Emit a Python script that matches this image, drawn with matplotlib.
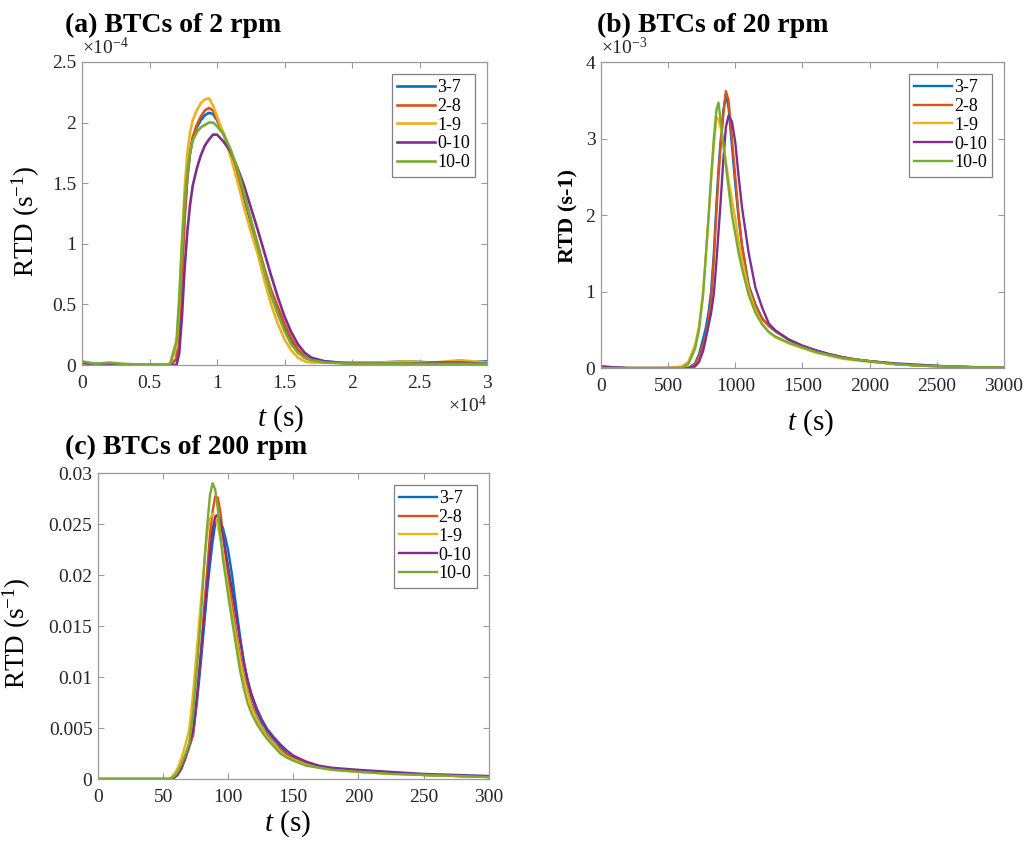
import numpy as np
import matplotlib
matplotlib.use("Agg")
import matplotlib.pyplot as plt
from matplotlib.ticker import FuncFormatter

plt.rcParams["font.family"] = ["Liberation Serif", "DejaVu Serif"]
plt.rcParams["mathtext.fontset"] = "custom"
plt.rcParams["mathtext.rm"] = "Liberation Serif"
plt.rcParams["mathtext.it"] = "Liberation Serif:italic"
plt.rcParams["mathtext.bf"] = "Liberation Serif:bold"

labels = ["3-7", "2-8", "1-9", "0-10", "10-0"]
colors = ["#0072BD", "#D95319", "#EDB120", "#7E2F8E", "#77AC30"]

# ----------- (a) 2 rpm : t in s, RTD in 1e-4 1/s -----------
t_a = [0, 1000, 2000, 3000, 5000, 6500, 7000, 7200, 7400, 7600,
       7800, 8000, 8200, 8500, 8800, 9100, 9400, 9700, 10000, 10500,
       11000, 11500, 12000, 12500, 13000, 13500, 14000, 14500, 15000, 15500,
       16000, 16500, 17000, 18000, 19000, 20000, 22000, 24000, 26000, 28000,
       30000]
rtd_a_37 = [0.02, 0.01, 0.01, 0.0, 0.0, 0.0, 0.05, 0.35, 0.8, 1.25,
            1.55, 1.75, 1.87, 1.96, 2.02, 2.06, 2.08, 2.07, 2.02, 1.9,
            1.76, 1.58, 1.38, 1.17, 0.97, 0.77, 0.58, 0.43, 0.3, 0.19,
            0.11, 0.06, 0.04, 0.03, 0.02, 0.02, 0.02, 0.03, 0.02, 0.02,
            0.03]
rtd_a_28 = [0.01, 0.0, 0.0, 0.0, 0.0, 0.0, 0.05, 0.3, 0.75, 1.2,
            1.55, 1.75, 1.88, 1.98, 2.05, 2.1, 2.12, 2.1, 2.03, 1.9,
            1.75, 1.58, 1.4, 1.2, 1.0, 0.8, 0.62, 0.48, 0.34, 0.22,
            0.13, 0.07, 0.04, 0.02, 0.02, 0.01, 0.02, 0.01, 0.02, 0.02,
            0.01]
rtd_a_19 = [0.01, 0.0, 0.0, 0.0, 0.0, 0.0, 0.15, 0.5, 1.0, 1.45,
            1.75, 1.92, 2.02, 2.1, 2.16, 2.19, 2.2, 2.14, 2.05, 1.9,
            1.72, 1.52, 1.3, 1.1, 0.92, 0.7, 0.5, 0.34, 0.21, 0.12,
            0.06, 0.03, 0.02, 0.02, 0.02, 0.02, 0.02, 0.03, 0.02, 0.04,
            0.02]
rtd_a_010 = [0.02, 0.0, 0.0, 0.0, 0.0, 0.0, 0.0, 0.1, 0.4, 0.8,
             1.1, 1.32, 1.48, 1.62, 1.73, 1.81, 1.86, 1.9, 1.9, 1.84,
             1.76, 1.63, 1.48, 1.3, 1.12, 0.93, 0.74, 0.56, 0.4, 0.27,
             0.17, 0.1, 0.06, 0.03, 0.02, 0.01, 0.01, 0.01, 0.02, 0.02,
             0.01]
rtd_a_100 = [0.03, 0.01, 0.02, 0.01, 0.0, 0.0, 0.2, 0.55, 1.0, 1.35,
             1.6, 1.75, 1.85, 1.92, 1.96, 1.98, 2.0, 2.0, 1.97, 1.9,
             1.78, 1.62, 1.42, 1.2, 0.98, 0.78, 0.58, 0.42, 0.28, 0.17,
             0.1, 0.06, 0.04, 0.02, 0.015, 0.01, 0.01, 0.01, 0.01, 0.01,
             0.01]

# ----------- (b) 20 rpm : t in s, RTD in 1e-3 1/s -----------
t_b = [0, 200, 500, 600, 650, 700, 730, 760, 780, 800,
       820, 840, 860, 875, 890, 910, 930, 950, 975, 1000,
       1025, 1050, 1100, 1150, 1200, 1250, 1300, 1400, 1500, 1600,
       1700, 1800, 1900, 2000, 2200, 2400, 2600, 2800, 3000]
rtd_b_37 = [0.02, 0.0, 0.0, 0.0, 0.0, 0.06, 0.18, 0.38, 0.52, 0.72,
            1.0, 1.5, 2.15, 2.6, 2.95, 3.35, 3.58, 3.4, 2.9, 2.4,
            1.95, 1.6, 1.08, 0.83, 0.65, 0.55, 0.48, 0.37, 0.29, 0.23,
            0.18, 0.14, 0.11, 0.09, 0.05, 0.03, 0.02, 0.01, 0.01]
rtd_b_28 = [0.0, 0.0, 0.0, 0.0, 0.0, 0.05, 0.15, 0.3, 0.42, 0.62,
            0.9, 1.4, 2.05, 2.5, 2.88, 3.3, 3.62, 3.5, 3.0, 2.5,
            2.0, 1.6, 1.05, 0.82, 0.64, 0.55, 0.48, 0.37, 0.29, 0.23,
            0.18, 0.14, 0.11, 0.09, 0.05, 0.03, 0.02, 0.01, 0.01]
rtd_b_19 = [0.0, 0.0, 0.0, 0.02, 0.08, 0.3, 0.55, 1.0, 1.45, 1.95,
            2.45, 2.9, 3.28, 3.25, 3.15, 2.95, 2.7, 2.45, 2.2, 1.95,
            1.65, 1.42, 1.02, 0.75, 0.58, 0.47, 0.4, 0.32, 0.26, 0.2,
            0.16, 0.12, 0.1, 0.08, 0.05, 0.03, 0.02, 0.01, 0.01]
rtd_b_010 = [0.02, 0.0, 0.0, 0.0, 0.0, 0.02, 0.08, 0.22, 0.38, 0.55,
             0.72, 0.97, 1.4, 1.78, 2.15, 2.7, 3.15, 3.3, 3.22, 2.95,
             2.5, 2.1, 1.5, 1.05, 0.79, 0.58, 0.49, 0.37, 0.29, 0.23,
             0.18, 0.14, 0.11, 0.09, 0.06, 0.04, 0.02, 0.01, 0.01]
rtd_b_100 = [0.0, 0.0, 0.0, 0.0, 0.05, 0.25, 0.5, 0.95, 1.45, 1.95,
             2.5, 3.0, 3.38, 3.47, 3.25, 2.95, 2.65, 2.35, 2.0, 1.75,
             1.5, 1.3, 0.95, 0.72, 0.57, 0.47, 0.41, 0.33, 0.27, 0.21,
             0.17, 0.13, 0.11, 0.09, 0.05, 0.03, 0.02, 0.01, 0.01]

# ----------- (c) 200 rpm : t in s, RTD in 1/s -----------
t_c = [0, 25, 50, 55, 58, 61, 64, 67, 70, 73,
       76, 79, 82, 84, 86, 88, 90, 92, 94, 96,
       98, 100, 103, 106, 109, 112, 115, 118, 122, 126,
       130, 135, 140, 145, 150, 160, 170, 180, 190, 200,
       225, 250, 275, 300]
rtd_c_37 = [0, 0, 0, 0, 0.0001, 0.0004, 0.001, 0.002, 0.0031, 0.0043,
            0.0075, 0.0114, 0.0157, 0.0186, 0.021, 0.0232, 0.025, 0.0254, 0.0252, 0.0246,
            0.0236, 0.0224, 0.02, 0.017, 0.0141, 0.0115, 0.0095, 0.008, 0.0066, 0.0055,
            0.0047, 0.0039, 0.0032, 0.0025, 0.0021, 0.0015, 0.0012, 0.001, 0.0009, 0.0008,
            0.0006, 0.0004, 0.0003, 0.0002]
rtd_c_28 = [0, 0, 0, 0, 0.0001, 0.0004, 0.001, 0.002, 0.0032, 0.0043,
            0.0079, 0.0125, 0.0175, 0.0207, 0.024, 0.0262, 0.0277, 0.0276, 0.0262, 0.024,
            0.0218, 0.0197, 0.017, 0.0145, 0.0122, 0.0102, 0.0086, 0.0073, 0.006, 0.005,
            0.0043, 0.0035, 0.0029, 0.0024, 0.002, 0.0015, 0.0012, 0.001, 0.0009, 0.0008,
            0.0006, 0.0004, 0.0003, 0.0002]
rtd_c_19 = [0, 0, 0, 0, 0.0004, 0.001, 0.002, 0.0033, 0.0048, 0.0083,
            0.0128, 0.0173, 0.0218, 0.0242, 0.0255, 0.026, 0.0258, 0.0248, 0.0235, 0.0222,
            0.0204, 0.0187, 0.0162, 0.0139, 0.0117, 0.0098, 0.0083, 0.007, 0.0058, 0.0049,
            0.0041, 0.0034, 0.0027, 0.0022, 0.0019, 0.0014, 0.0011, 0.0009, 0.0008, 0.0007,
            0.0005, 0.0004, 0.0003, 0.0002]
rtd_c_010 = [0, 0, 0, 0, 0.0001, 0.0004, 0.0011, 0.0022, 0.0034, 0.0047,
             0.0081, 0.0121, 0.0164, 0.0193, 0.0222, 0.0244, 0.0257, 0.0259, 0.0252, 0.0239,
             0.0224, 0.0208, 0.0185, 0.0161, 0.0137, 0.0115, 0.0097, 0.0083, 0.0069, 0.0058,
             0.0049, 0.0041, 0.0034, 0.0028, 0.0023, 0.0017, 0.0013, 0.0011, 0.001, 0.0009,
             0.0007, 0.0005, 0.0004, 0.0003]
rtd_c_100 = [0, 0, 0, 0, 0.0002, 0.0006, 0.0014, 0.0024, 0.0035, 0.0064,
             0.0108, 0.0158, 0.0218, 0.025, 0.0278, 0.029, 0.0284, 0.0265, 0.024, 0.0215,
             0.0198, 0.018, 0.0155, 0.0131, 0.0107, 0.0089, 0.0074, 0.0064, 0.0054, 0.0046,
             0.0039, 0.0032, 0.0025, 0.0021, 0.0018, 0.0013, 0.0011, 0.0009, 0.0008, 0.0007,
             0.0005, 0.0004, 0.0003, 0.0002]

SPINE = "#9a9a9a"
TEXT = "#262626"


def style_axes(ax, xlim, xticks, ylim, yticks, xdiv=1.0, ydiv=1.0):
    ax.set_xlim(*xlim)
    ax.set_ylim(*ylim)
    ax.set_xticks(xticks)
    ax.set_yticks(yticks)
    ax.xaxis.set_major_formatter(FuncFormatter(lambda v, p: f"{v / xdiv:g}"))
    ax.yaxis.set_major_formatter(FuncFormatter(lambda v, p: f"{v / ydiv:g}"))
    ax.tick_params(direction="in", top=True, right=True, length=4, width=0.8,
                   color=SPINE, labelcolor=TEXT, labelsize=14)
    ax.tick_params(axis="x", pad=7)
    ax.tick_params(axis="y", pad=4)
    for s in ax.spines.values():
        s.set_color(SPINE)
        s.set_linewidth(0.9)
    leg = ax.legend(loc="upper right", fontsize=13, handlelength=2.1,
                    handletextpad=0.1, labelspacing=0.1, borderpad=0.3,
                    borderaxespad=0.65, fancybox=False, framealpha=1)
    leg.get_frame().set_edgecolor("#808080")
    leg.get_frame().set_linewidth(0.9)


fig = plt.figure(figsize=(10.28, 8.42), dpi=100)
ax_a = fig.add_axes([0.0798, 0.5665, 0.394, 0.360])
ax_b = fig.add_axes([0.5846, 0.5629, 0.392, 0.3634])
ax_c = fig.add_axes([0.0953, 0.0748, 0.380, 0.3634])

# (a)
for y, lab, c in zip([rtd_a_37, rtd_a_28, rtd_a_19, rtd_a_010, rtd_a_100], labels, colors):
    ax_a.plot(t_a, np.array(y) * 1e-4, color=c, lw=1.9, label=lab)
style_axes(ax_a, (0, 30000), np.arange(0, 30001, 5000), (0, 2.5e-4),
           np.arange(0, 2.51e-4, 0.5e-4), xdiv=1e4, ydiv=1e-4)
ax_a.text(0.0, 1.012, r"$\times10^{-4}$", transform=ax_a.transAxes, fontsize=14,
          color=TEXT, ha="left", va="bottom")
ax_a.text(1.0, -0.10, r"$\times10^{4}$", transform=ax_a.transAxes, fontsize=14,
          color=TEXT, ha="right", va="top")
ax_a.set_ylabel(r"RTD (s$^{-1}$)", fontsize=19.5)
ax_a.yaxis.set_label_coords(-0.099, 0.475)
ax_a.set_xlabel(r"$t$ (s)", fontsize=21)
ax_a.xaxis.set_label_coords(0.489, -0.128)

# (b)
for y, lab, c in zip([rtd_b_37, rtd_b_28, rtd_b_19, rtd_b_010, rtd_b_100], labels, colors):
    ax_b.plot(t_b, np.array(y) * 1e-3, color=c, lw=1.7, label=lab)
style_axes(ax_b, (0, 3000), np.arange(0, 3001, 500), (0, 4e-3),
           np.arange(0, 4.01e-3, 1e-3), ydiv=1e-3)
ax_b.text(0.0, 1.012, r"$\times10^{-3}$", transform=ax_b.transAxes, fontsize=14,
          color=TEXT, ha="left", va="bottom")
ax_b.set_ylabel("RTD (s-1)", fontsize=16, fontweight="bold")
ax_b.yaxis.set_label_coords(-0.057, 0.497)
ax_b.set_xlabel(r"$t$ (s)", fontsize=21)
ax_b.xaxis.set_label_coords(0.519, -0.13)

# (c)
for y, lab, c in zip([rtd_c_37, rtd_c_28, rtd_c_19, rtd_c_010, rtd_c_100], labels, colors):
    ax_c.plot(t_c, y, color=c, lw=1.7, label=lab)
style_axes(ax_c, (0, 300), np.arange(0, 301, 50), (0, 0.03),
           np.arange(0, 0.0301, 0.005))
ax_c.set_ylabel(r"RTD (s$^{-1}$)", fontsize=19.5)
ax_c.yaxis.set_label_coords(-0.166, 0.477)
ax_c.set_xlabel(r"$t$ (s)", fontsize=21)
ax_c.xaxis.set_label_coords(0.486, -0.095)

# panel titles
fig.text(65 / 1028, 1 - 32 / 842, "(a) BTCs of 2 rpm", fontsize=20,
         fontweight="bold", ha="left", va="baseline")
fig.text(597 / 1028, 1 - 32 / 842, "(b) BTCs of 20 rpm", fontsize=20,
         fontweight="bold", ha="left", va="baseline")
fig.text(65 / 1028, 1 - 454 / 842, "(c) BTCs of 200 rpm", fontsize=20,
         fontweight="bold", ha="left", va="baseline")

fig.savefig("out.png", dpi=100)
